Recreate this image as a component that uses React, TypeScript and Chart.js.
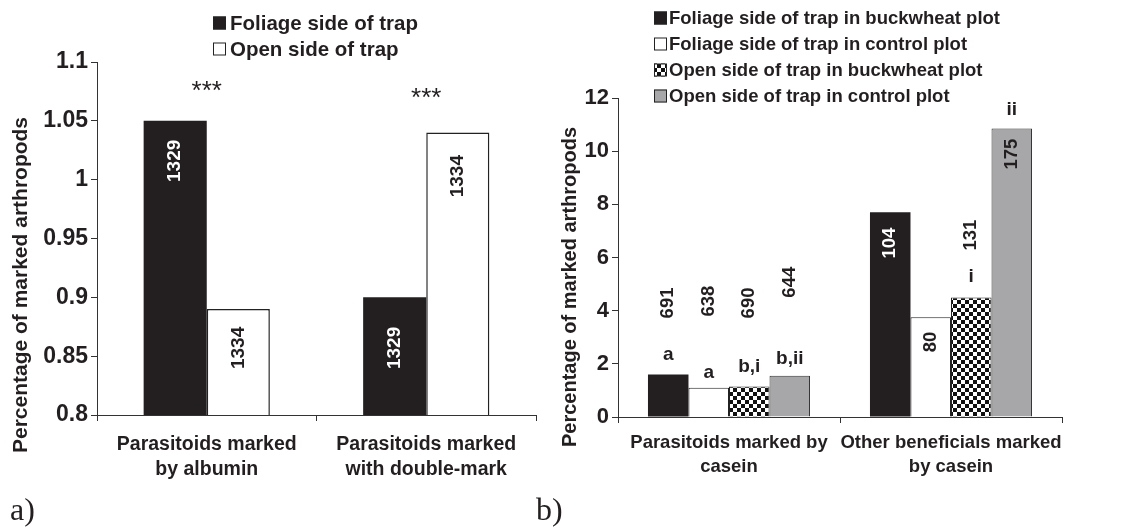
import React, { useEffect, useRef } from "react";
import { Chart, registerables } from "chart.js";

Chart.register(...registerables);

const FONT = '"Liberation Sans", Arial, sans-serif';
const INK = "#231f20";

// ---------- Chart a data ----------
const categoriesA = [
  ["Parasitoids marked", "by albumin"],
  ["Parasitoids marked", "with double-mark"],
];
const seriesNamesA = ["Foliage side of trap", "Open side of trap"];
const foliageA = [1.05, 0.9];
const openA = [0.89, 1.04];
const countsA = [
  ["1329", "1329"],
  ["1334", "1334"],
];
const countYA = [
  [1.016, 0.857],
  [0.857, 1.003],
];
const sigA = ["***", "***"];
const sigYA = [1.0745, 1.0686];
const yTicksA = [0.8, 0.85, 0.9, 0.95, 1, 1.05, 1.1];

// ---------- Chart b data ----------
const categoriesB = [
  ["Parasitoids marked by", "casein"],
  ["Other beneficials marked", "by casein"],
];
const seriesNamesB = [
  "Foliage side of trap in buckwheat plot",
  "Foliage side of trap in control plot",
  "Open side of trap in buckwheat plot",
  "Open side of trap in control plot",
];
const foliageBuckwheatB = [1.6, 7.7];
const foliageControlB = [1.1, 3.75];
const openBuckwheatB = [1.15, 4.5];
const openControlB = [1.55, 10.85];
const countsB = [
  ["691", "104"],
  ["638", "80"],
  ["690", "131"],
  ["644", "175"],
];
const countYB = [
  [4.29, 6.54],
  [4.36, 2.82],
  [4.29, 6.84],
  [5.07, 9.89],
];
const lettersB = [
  ["a", ""],
  ["a", ""],
  ["b,i", "i"],
  ["b,ii", "ii"],
];
const letterYB = [
  [2.33, 0],
  [1.65, 0],
  [1.88, 5.26],
  [2.2, 11.54],
];
const yTicksB = [0, 2, 4, 6, 8, 10, 12];

const AXIS_TITLE = "Percentage of marked arthropods";

function makeChecker(ctx: CanvasRenderingContext2D) {
  const c = document.createElement("canvas");
  c.width = 8;
  c.height = 8;
  const g = c.getContext("2d")!;
  g.fillStyle = "#ffffff";
  g.fillRect(0, 0, 8, 8);
  g.fillStyle = "#111111";
  g.fillRect(0, 0, 4, 4);
  g.fillRect(4, 4, 4, 4);
  return ctx.createPattern(c, "repeat") as CanvasPattern;
}

const annotPlugin = {
  id: "annot",
  afterDatasetsDraw(chart: any, _args: any, opts: any) {
    const { ctx, scales } = chart;
    const ys = scales.y;
    const xs = scales.x;
    ctx.save();
    (opts.counts || []).forEach((row: string[], di: number) => {
      const meta = chart.getDatasetMeta(di);
      row.forEach((txt: string, i: number) => {
        if (!txt) return;
        const el = meta.data[i];
        const v = opts.countY[di][i];
        const val = chart.data.datasets[di].data[i];
        const dark = opts.darkSets.includes(di);
        ctx.save();
        ctx.translate(el.x, ys.getPixelForValue(v));
        ctx.rotate(-Math.PI / 2);
        ctx.font = `bold ${opts.countSize}px ${FONT}`;
        ctx.fillStyle = dark && v < val ? "#ffffff" : INK;
        ctx.textAlign = "center";
        ctx.textBaseline = "middle";
        ctx.fillText(txt, 0, 0);
        ctx.restore();
      });
    });
    (opts.letters || []).forEach((row: string[], di: number) => {
      const meta = chart.getDatasetMeta(di);
      row.forEach((txt: string, i: number) => {
        if (!txt) return;
        const el = meta.data[i];
        ctx.font = `bold 19px ${FONT}`;
        ctx.fillStyle = INK;
        ctx.textAlign = "center";
        ctx.textBaseline = "middle";
        ctx.fillText(txt, el.x, ys.getPixelForValue(opts.letterY[di][i]));
      });
    });
    (opts.sig || []).forEach((txt: string, i: number) => {
      ctx.font = `26px ${FONT}`;
      ctx.fillStyle = INK;
      ctx.textAlign = "center";
      ctx.textBaseline = "middle";
      ctx.fillText(txt, xs.getPixelForValue(i), ys.getPixelForValue(opts.sigY[i]));
    });
    ctx.restore();
  },
  afterDraw(chart: any, _args: any, opts: any) {
    const { ctx } = chart;
    ctx.save();
    ctx.translate(opts.titleX, opts.titleY);
    ctx.rotate(-Math.PI / 2);
    ctx.font = `bold ${opts.titleSize}px ${FONT}`;
    ctx.fillStyle = INK;
    ctx.textAlign = "center";
    ctx.textBaseline = "middle";
    ctx.fillText(AXIS_TITLE, 0, 0);
    ctx.restore();
    ctx.save();
    chart.data.datasets.forEach((ds: any, i: number) => {
      const y = opts.legendY + i * opts.legendStep;
      const s = 13;
      ctx.fillStyle = ds.backgroundColor;
      ctx.fillRect(opts.legendX, y - s / 2, s, s);
      ctx.strokeStyle = "#222";
      ctx.lineWidth = 1;
      ctx.strokeRect(opts.legendX + 0.5, y - s / 2 + 0.5, s - 1, s - 1);
      ctx.font = `bold ${opts.legendSize}px ${FONT}`;
      ctx.fillStyle = INK;
      ctx.textAlign = "left";
      ctx.textBaseline = "middle";
      ctx.fillText(ds.label, opts.legendX + s + opts.legendGap, y + 1);
    });
    ctx.restore();
  },
};

function scalesFor(
  min: number,
  max: number,
  yWidth: number,
  xHeight: number,
  ticks: number[],
  tickSize: number,
  catSize: number,
  catPad: number
) {
  return {
    x: {
      type: "category" as const,
      offset: true,
      grid: { drawOnChartArea: false, drawTicks: true, tickLength: 6, color: "#333", offset: true },
      border: { display: true, color: "#333", width: 1 },
      ticks: {
        color: INK,
        font: { family: FONT, size: catSize, weight: "bold" as const, lineHeight: 1.3 },
        padding: catPad,
        maxRotation: 0,
        autoSkip: false,
      },
      afterFit: (s: any) => {
        s.height = xHeight;
      },
    },
    y: {
      min,
      max,
      grid: { drawOnChartArea: false, drawTicks: true, tickLength: 6, color: "#333" },
      border: { display: true, color: "#333", width: 1 },
      afterBuildTicks: (s: any) => {
        s.ticks = ticks.map((v) => ({ value: v }));
      },
      ticks: {
        color: INK,
        font: { family: FONT, size: tickSize, weight: "bold" as const },
        padding: 3,
        callback: (v: any) => String(Number(Number(v).toFixed(2))),
      },
      afterFit: (s: any) => {
        s.width = yWidth;
      },
    },
  };
}

function ChartA() {
  const ref = useRef<HTMLCanvasElement>(null);
  useEffect(() => {
    const ctx = ref.current!.getContext("2d")!;
    const chart = new Chart(ctx, {
      type: "bar",
      data: {
        labels: categoriesA,
        datasets: [
          { label: seriesNamesA[0], data: foliageA, backgroundColor: INK, borderColor: INK, borderWidth: 0 },
          { label: seriesNamesA[1], data: openA, backgroundColor: "#ffffff", borderColor: "#222", borderWidth: 1.5 },
        ],
      },
      options: {
        responsive: false,
        animation: false,
        layout: { padding: { left: 0, top: 62, right: 9, bottom: 0 } },
        datasets: { bar: { barPercentage: 1, categoryPercentage: 0.575 } },
        scales: scalesFor(0.8, 1.1, 97, 115, yTicksA, 23, 19.5, 11),
        plugins: {
          legend: { display: false },
          tooltip: { enabled: false },
          annot: {
            counts: countsA,
            countY: countYA,
            darkSets: [0],
            countSize: 19,
            sig: sigA,
            sigY: sigYA,
            titleX: 21,
            titleY: 285,
            titleSize: 21,
            legendX: 213,
            legendY: 23,
            legendStep: 26,
            legendSize: 20.5,
            legendGap: 4,
          },
        } as any,
      },
      plugins: [annotPlugin],
    } as any);
    return () => chart.destroy();
  }, []);
  return <canvas ref={ref} width={545} height={530} style={{ position: "absolute", left: 0, top: 0 }} />;
}

function ChartB() {
  const ref = useRef<HTMLCanvasElement>(null);
  useEffect(() => {
    const ctx = ref.current!.getContext("2d")!;
    const checker = makeChecker(ctx);
    const chart = new Chart(ctx, {
      type: "bar",
      data: {
        labels: categoriesB,
        datasets: [
          { label: seriesNamesB[0], data: foliageBuckwheatB, backgroundColor: INK, borderColor: INK, borderWidth: 0 },
          { label: seriesNamesB[1], data: foliageControlB, backgroundColor: "#ffffff", borderColor: "#222", borderWidth: 1 },
          { label: seriesNamesB[2], data: openBuckwheatB, backgroundColor: checker, borderColor: "#222", borderWidth: 1 },
          { label: seriesNamesB[3], data: openControlB, backgroundColor: "#a7a7a9", borderColor: "#333", borderWidth: 1 },
        ],
      },
      options: {
        responsive: false,
        animation: false,
        layout: { padding: { left: 0, top: 98, right: 79, bottom: 0 } },
        datasets: { bar: { barPercentage: 1, categoryPercentage: 0.73 } },
        scales: scalesFor(0, 12, 73, 113, yTicksB, 22, 18.5, 8),
        plugins: {
          legend: { display: false },
          tooltip: { enabled: false },
          annot: {
            counts: countsB,
            countY: countYB,
            darkSets: [0],
            countSize: 18.5,
            letters: lettersB,
            letterY: letterYB,
            titleX: 25,
            titleY: 287,
            titleSize: 20,
            legendX: 109,
            legendY: 18,
            legendStep: 26,
            legendSize: 18.5,
            legendGap: 2,
          },
        } as any,
      },
      plugins: [annotPlugin],
    } as any);
    return () => chart.destroy();
  }, []);
  return <canvas ref={ref} width={596} height={530} style={{ position: "absolute", left: 545, top: 0 }} />;
}

export default function App() {
  const panelLabel: React.CSSProperties = {
    position: "absolute",
    top: 491,
    fontFamily: '"Liberation Serif", "Times New Roman", serif',
    fontSize: 32,
    color: INK,
    lineHeight: "36px",
  };
  return (
    <div style={{ position: "fixed", left: 0, top: 0, width: 1141, height: 530, background: "#fff" }}>
      <ChartA />
      <ChartB />
      <div style={{ ...panelLabel, left: 10 }}>a)</div>
      <div style={{ ...panelLabel, left: 536 }}>b)</div>
    </div>
  );
}
